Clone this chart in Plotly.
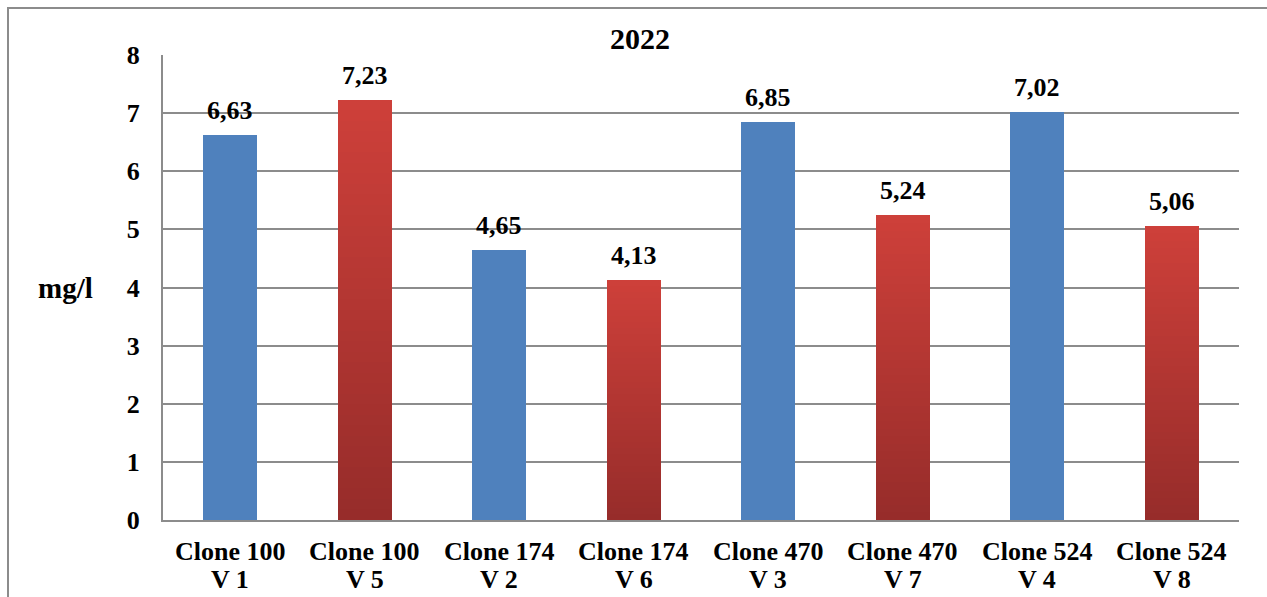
import plotly.graph_objects as go

clones = ["Clone 100", "Clone 100", "Clone 174", "Clone 174",
          "Clone 470", "Clone 470", "Clone 524", "Clone 524"]
variants = ["V 1", "V 5", "V 2", "V 6", "V 3", "V 7", "V 4", "V 8"]
categories = [c + " " + v for c, v in zip(clones, variants)]
values = [6.63, 7.23, 4.65, 4.13, 6.85, 5.24, 7.02, 5.06]
is_red = [False, True, False, True, False, True, False, True]
y_ticks = [0, 1, 2, 3, 4, 5, 6, 7, 8]
title_text = "2022"
y_title = "mg/l"

BLUE = "#4F81BD"
RED_TOP = (206, 64, 58)
RED_BOTTOM = (150, 44, 42)
N_SEG = 40
FONT = "Liberation Serif, Times New Roman, serif"

# plot area geometry (px) used for placing paper-referenced text
PL, PR, PT, PB = 163, 1239, 55, 520
PW, PH = PR - PL, PB - PT

fig = go.Figure()

fig.add_trace(go.Bar(
    x=categories,
    y=[v if not r else None for v, r in zip(values, is_red)],
    marker=dict(color=BLUE, line=dict(width=0)),
    width=0.4, hoverinfo="skip", showlegend=False))

for i in range(N_SEG):
    t = (i + 0.5) / N_SEG
    c = tuple(round(RED_BOTTOM[k] + (RED_TOP[k] - RED_BOTTOM[k]) * t) for k in range(3))
    fig.add_trace(go.Bar(
        x=categories,
        y=[v / N_SEG if r else None for v, r in zip(values, is_red)],
        marker=dict(color="rgb(%d,%d,%d)" % c, line=dict(width=0)),
        width=0.4, hoverinfo="skip", showlegend=False))

# value labels
for cat, v in zip(categories, values):
    fig.add_annotation(x=cat, y=v, text="<b>%s</b>" % ("%.2f" % v).replace(".", ","),
                       showarrow=False, yanchor="bottom", yshift=8,
                       font=dict(family=FONT, size=26, color="black"))

# two-line category labels
for cat, c1, c2 in zip(categories, clones, variants):
    fig.add_annotation(x=cat, xref="x", yref="paper", y=(PB - 551) / PH, text="<b>%s</b>" % c1,
                       showarrow=False, yanchor="middle",
                       font=dict(family=FONT, size=26, color="black"))
    fig.add_annotation(x=cat, xref="x", yref="paper", y=(PB - 579) / PH, text="<b>%s</b>" % c2,
                       showarrow=False, yanchor="middle",
                       font=dict(family=FONT, size=26, color="black"))

fig.add_annotation(xref="paper", yref="paper", x=(65 - PL) / PW, y=(PB - 288) / PH,
                   text="<b>%s</b>" % y_title, showarrow=False,
                   xanchor="center", yanchor="middle",
                   font=dict(family=FONT, size=29, color="black"))

fig.add_shape(type="rect", xref="paper", yref="paper",
              x0=(8 - PL) / PW, x1=(1275 - PL) / PW,
              y0=-0.3, y1=(PB - 8) / PH,
              line=dict(color="#8C8C8C", width=2), layer="below")

fig.update_layout(
    width=1267, height=597,
    margin=dict(l=PL, r=1267 - PR, t=PT, b=597 - PB, autoexpand=False),
    paper_bgcolor="white", plot_bgcolor="white",
    font=dict(family=FONT),
    barmode="stack", bargap=0.6,
    title=dict(text="<b>%s</b>" % title_text, x=(640 / 1267), xanchor="center",
               y=1 - 38 / 597, yanchor="middle",
               font=dict(family=FONT, size=30, color="black")),
    xaxis=dict(showline=True, linecolor="#8C8C8C", linewidth=2, showgrid=False,
               automargin=False, showticklabels=False, ticks=""),
    yaxis=dict(range=[0, 8], tickvals=y_ticks, showline=True, linecolor="#8C8C8C",
               linewidth=2, showgrid=True, gridcolor="#8C8C8C", gridwidth=1.5,
               automargin=False,
               zeroline=False, ticks="", ticklabelstandoff=16,
               tickfont=dict(family=FONT, size=26, color="black", weight="bold")),
    showlegend=False,
)

fig.write_html("out.html")
